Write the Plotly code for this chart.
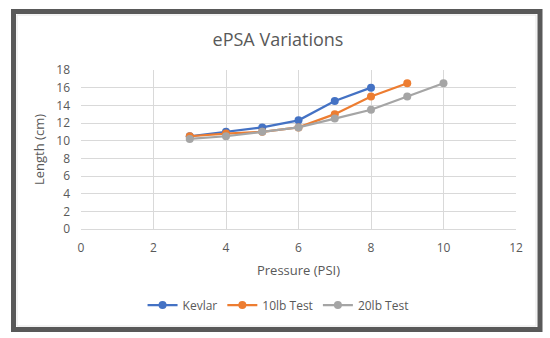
import plotly.graph_objects as go

kevlar_x = [3, 4, 5, 6, 7, 8]
kevlar_y = [10.5, 11.0, 11.5, 12.3, 14.5, 16.0]
lb10_x = [3, 4, 5, 6, 7, 8, 9]
lb10_y = [10.5, 10.8, 11.0, 11.5, 13.0, 15.0, 16.5]
lb20_x = [3, 4, 5, 6, 7, 8, 9, 10]
lb20_y = [10.2, 10.5, 11.0, 11.5, 12.5, 13.5, 15.0, 16.5]

series = [
    ("Kevlar", kevlar_x, kevlar_y, "#4472C4"),
    ("10lb Test", lb10_x, lb10_y, "#ED7D31"),
    ("20lb Test", lb20_x, lb20_y, "#A5A5A5"),
]

fig = go.Figure()
for name, xs, ys, c in series:
    fig.add_trace(go.Scatter(x=xs, y=ys, name=name, mode="lines+markers",
                             line=dict(color=c, width=2.25),
                             marker=dict(color=c, size=8)))

font = "Open Sans, Noto Sans, sans-serif"
fig.update_layout(
    width=550, height=338,
    margin=dict(l=81, r=34, t=70, b=109, autoexpand=False),
    paper_bgcolor="white", plot_bgcolor="white",
    font=dict(family=font, color="#595959", size=12),
    title=dict(text="ePSA Variations", x=278 / 550, xref="container", xanchor="center",
               y=1 - 40 / 338, yref="container", yanchor="middle",
               font=dict(size=18, color="#595959", family=font)),
    xaxis=dict(range=[0, 12], dtick=2, showgrid=True, gridcolor="#d9d9d9",
               gridwidth=1, zeroline=False, showline=True, linecolor="#d9d9d9",
               mirror=False, ticks="", tickfont=dict(size=12, color="#595959"),
               ticklabelstandoff=8, automargin=False,
               title=dict(text="Pressure (PSI)", standoff=10,
                          font=dict(size=13, color="#595959"))),
    yaxis=dict(range=[0, 18], dtick=2, showgrid=True, gridcolor="#d9d9d9",
               gridwidth=1, zeroline=False, showline=False, ticks="",
               tickfont=dict(size=12, color="#595959"),
               ticklabelstandoff=10, automargin=False,
               title=dict(text="Length (cm)", standoff=8,
                          font=dict(size=13, color="#595959"))),
    legend=dict(orientation="h", x=0.453, xanchor="center", y=-0.478,
                yanchor="middle", font=dict(size=12, color="#595959"),
                tracegroupgap=0),
    showlegend=True,
)

fig.add_shape(type="rect", xref="paper", yref="paper",
              x0=(13.5 - 81) / 435, x1=(540 - 81) / 435,
              y0=(229 - 329.5) / 159, y1=(229 - 11.5) / 159,
              line=dict(color="#595959", width=5), layer="above")
fig.add_shape(type="rect", xref="paper", yref="paper",
              x0=(17 - 81) / 435, x1=(536 - 81) / 435,
              y0=(229 - 326) / 159, y1=(229 - 15) / 159,
              line=dict(color="#e6e6e6", width=1), layer="below")

fig.write_html("out.html", config={"displayModeBar": False},
               post_script="document.body.style.margin='0';")
